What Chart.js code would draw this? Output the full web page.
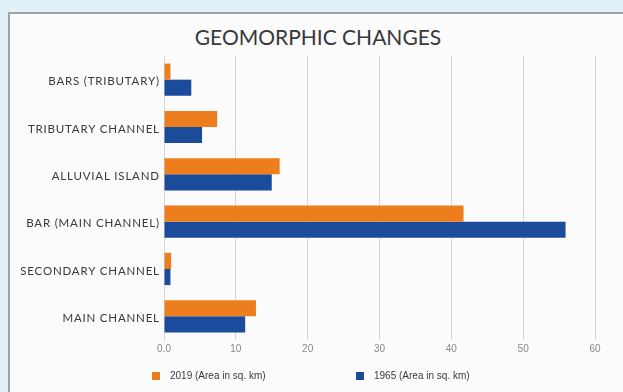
<!DOCTYPE html>
<html>
<head>
<meta charset="utf-8">
<script src="https://cdn.jsdelivr.net/npm/chart.js@4/dist/chart.umd.min.js"></script>
<style>
  html, body { margin: 0; padding: 0; }
  body { width: 623px; height: 392px; overflow: hidden; background: #e2f1f9; position: relative; }
  #panel { position: absolute; left: 8px; top: 12px; width: 660px; height: 420px;
           background: #fbfbfb; border-left: 2px solid #9aa6a9; border-top: 2px solid #9aa6a9; }
  #wrap { position: absolute; left: 0; top: 0; width: 623px; height: 392px; }
  #title { position: absolute; left: 118px; width: 400px; top: 24px; text-align: center;
           font-family: Lato, sans-serif; font-size: 21px; color: #383838; line-height: 26px; white-space: nowrap; }
  #legend { position: absolute; top: 370px; left: 0; width: 623px; height: 14px;
            font-family: "Liberation Sans", Arial, sans-serif; font-size: 10px; color: #3a3a3a; }
  .item { position: absolute; top: 0; display: flex; align-items: center; white-space: nowrap; }
  .sw { width: 8px; height: 8px; margin-right: 10px; display: inline-block; }
</style>
</head>
<body>
<div id="panel"></div>
<div id="title"></div>
<div id="wrap"><canvas id="c" width="623" height="392"></canvas></div>
<div id="legend"></div>
<script>
const categories = ["BARS (TRIBUTARY)", "TRIBUTARY CHANNEL", "ALLUVIAL ISLAND", "BAR (MAIN CHANNEL)", "SECONDARY CHANNEL", "MAIN CHANNEL"];
const series2019 = [0.9, 7.4, 16.1, 41.7, 1.0, 12.8];
const series1965 = [3.8, 5.3, 15.0, 55.9, 0.9, 11.3];
const seriesLabels = ["2019 (Area in sq. km)", "1965 (Area in sq. km)"];
const tickLabels = ["0.0", "10", "20", "30", "40", "50", "60"];
const titleText = "GEOMORPHIC CHANGES";

const colors = ["#ec7e1d", "#1b4c9b"];

document.getElementById("title").textContent = titleText;

const chart = new Chart(document.getElementById("c"), {
  type: "bar",
  data: {
    labels: categories,
    datasets: [
      { label: seriesLabels[0], data: series2019, backgroundColor: colors[0], borderWidth: 0 },
      { label: seriesLabels[1], data: series1965, backgroundColor: colors[1], borderWidth: 0 }
    ]
  },
  options: {
    indexAxis: "y",
    responsive: false,
    animation: false,
    devicePixelRatio: 1,
    layout: { padding: { left: 0, right: 28, top: 56, bottom: 30 } },
    datasets: { bar: { categoryPercentage: 0.68, barPercentage: 1.0 } },
    plugins: {
      legend: { display: false },
      tooltip: { enabled: false },
      title: { display: false }
    },
    scales: {
      x: {
        min: 0, max: 60,
        ticks: {
          stepSize: 10,
          color: "#8a8a8a",
          padding: 3,
          font: { family: "Liberation Sans", size: 10 },
          callback: (v, i) => tickLabels[i]
        },
        grid: { color: "#d6d6d6", drawTicks: false },
        border: { display: false },
        afterFit: (s) => { s.height = 22; }
      },
      y: {
        ticks: {
          color: "#3a3a3a",
          padding: 5,
          font: { family: "Lato", size: 11.5 }
        },
        grid: { display: false, drawTicks: false },
        border: { display: true, color: "#d6d6d6" },
        afterFit: (s) => { s.width = 164; }
      }
    }
  }
});

// slight letter spacing for the category labels only
const yScale = chart.scales.y;
const origDrawLabels = yScale.drawLabels.bind(yScale);
yScale.drawLabels = function (area) {
  const ctx = this.ctx;
  ctx.save();
  ctx.letterSpacing = "0.8px";
  ctx.translate(0.8, 2);
  origDrawLabels(area);
  ctx.restore();
};
chart.draw();

// legend built from the datasets
const leg = document.getElementById("legend");
const legendX = [152, 356];
chart.data.datasets.forEach((ds, i) => {
  const it = document.createElement("div");
  it.className = "item";
  it.style.left = legendX[i] + "px";
  const sw = document.createElement("span");
  sw.className = "sw";
  sw.style.background = ds.backgroundColor;
  const tx = document.createElement("span");
  tx.textContent = ds.label;
  it.appendChild(sw); it.appendChild(tx);
  leg.appendChild(it);
});
</script>
</body>
</html>
